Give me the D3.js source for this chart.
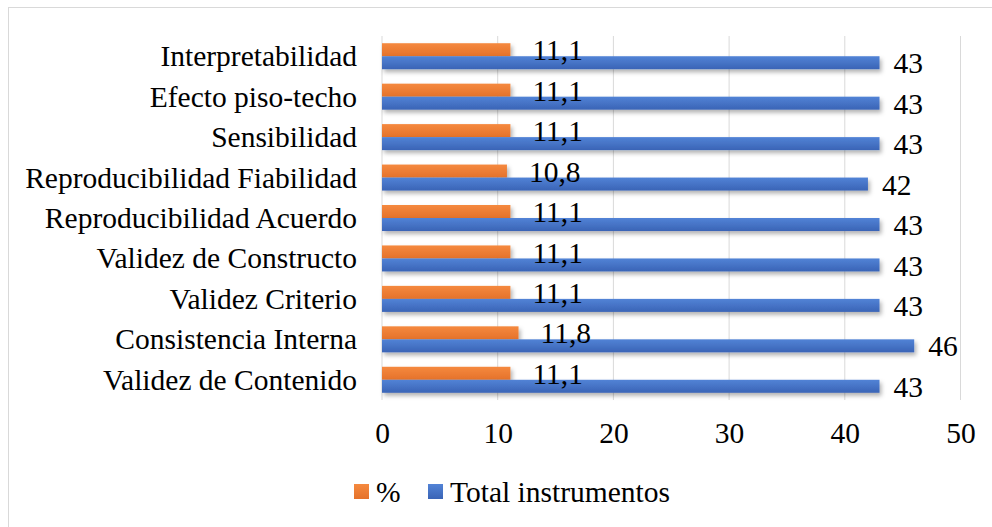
<!DOCTYPE html>
<html>
<head>
<meta charset="utf-8">
<script src="https://cdn.jsdelivr.net/npm/d3@7/dist/d3.min.js"></script>
<style>
  body { margin: 0; background: #fff; }
  svg text { font-family: "Liberation Serif", "Times New Roman", serif; fill: #000; }
</style>
</head>
<body>
<div id="chart"></div>
<script>
// categories, top to bottom as drawn
const categories = [
  "Interpretabilidad",
  "Efecto piso-techo",
  "Sensibilidad",
  "Reproducibilidad Fiabilidad",
  "Reproducibilidad Acuerdo",
  "Validez de Constructo",
  "Validez Criterio",
  "Consistencia Interna",
  "Validez de Contenido"
];
const pctValues = [11.1, 11.1, 11.1, 10.8, 11.1, 11.1, 11.1, 11.8, 11.1];
const totalValues = [43, 43, 43, 42, 43, 43, 43, 46, 43];
const seriesNames = ["%", "Total instrumentos"];
const xTicks = [0, 10, 20, 30, 40, 50];

const width = 992;
const height = 527;
const plot = { left: 382, right: 960.5, top: 36, bottom: 400 };
const fontSize = 29.5;

const esFormat = d3.formatLocale({ decimal: ",", thousands: ".", grouping: [3], currency: ["", "€"] });
const fmtPct = esFormat.format(".1f");
const fmtTotal = esFormat.format("d");

const svg = d3.select("#chart").append("svg")
  .attr("width", width)
  .attr("height", height);

const defs = svg.append("defs");

const shadow = defs.append("filter")
  .attr("id", "shadow")
  .attr("x", "-5%").attr("y", "-30%")
  .attr("width", "115%").attr("height", "190%");
shadow.append("feDropShadow")
  .attr("dx", 2).attr("dy", 3)
  .attr("stdDeviation", 2)
  .attr("flood-color", "#000")
  .attr("flood-opacity", 0.3);

function addGradient(id, top, bottom) {
  const g = defs.append("linearGradient")
    .attr("id", id)
    .attr("x1", 0).attr("y1", 0).attr("x2", 0).attr("y2", 1);
  g.append("stop").attr("offset", "0%").attr("stop-color", top);
  g.append("stop").attr("offset", "100%").attr("stop-color", bottom);
}
addGradient("gradOrange", "#f5893f", "#e5722a");
addGradient("gradBlue", "#5283d6", "#3a64b6");

const colors = ["url(#gradOrange)", "url(#gradBlue)"];
const legendColors = ["url(#gradOrange)", "url(#gradBlue)"];

// outer frame
svg.append("rect")
  .attr("x", 8.5).attr("y", 7.5)
  .attr("width", 1000).attr("height", 1000)
  .attr("fill", "none")
  .attr("stroke", "#d9d9d9");

const x = d3.scaleLinear()
  .domain([0, 50])
  .range([plot.left, plot.right]);

const y = d3.scaleBand()
  .domain(categories)
  .range([plot.top, plot.bottom])
  .padding(0);

const sub = d3.scaleBand()
  .domain(seriesNames)
  .range([0, y.bandwidth()])
  .paddingInner(0)
  .paddingOuter(0.555);

// gridlines
svg.append("g")
  .selectAll("line")
  .data(xTicks)
  .enter().append("line")
  .attr("x1", d => x(d)).attr("x2", d => x(d))
  .attr("y1", plot.top).attr("y2", plot.bottom)
  .attr("stroke", "#d9d9d9")
  .attr("stroke-width", 1);

// x axis
const xAxis = svg.append("g")
  .attr("transform", `translate(0,${plot.bottom})`)
  .call(d3.axisBottom(x).tickValues(xTicks).tickSize(0).tickPadding(22).tickFormat(d3.format("d")));
xAxis.select(".domain").remove();
xAxis.selectAll("text")
  .attr("font-size", fontSize)
  .attr("fill", "#000");

// category labels
svg.append("g")
  .selectAll("text")
  .data(categories)
  .enter().append("text")
  .attr("x", 357)
  .attr("y", d => y(d) + y.bandwidth() / 2)
  .attr("dy", "0.34em")
  .attr("text-anchor", "end")
  .attr("font-size", fontSize)
  .text(d => d);

const rows = categories.map((c, i) => ({
  category: c,
  values: [
    { series: seriesNames[0], value: pctValues[i], label: fmtPct(pctValues[i]), idx: 0 },
    { series: seriesNames[1], value: totalValues[i], label: fmtTotal(totalValues[i]), idx: 1 }
  ]
}));

const group = svg.append("g")
  .selectAll("g")
  .data(rows)
  .enter().append("g")
  .attr("transform", d => `translate(0,${y(d.category)})`);

group.selectAll("rect")
  .data(d => d.values)
  .enter().append("rect")
  .attr("x", x(0))
  .attr("y", d => sub(d.series))
  .attr("width", d => x(d.value) - x(0))
  .attr("height", sub.bandwidth())
  .attr("fill", d => colors[d.idx])
  .attr("filter", "url(#shadow)");

group.selectAll("text")
  .data(d => d.values)
  .enter().append("text")
  .attr("x", d => x(d.value) + (d.idx === 0 ? 22 : 14))
  .attr("y", d => sub(d.series) + sub.bandwidth() / 2)
  .attr("dy", "0.36em")
  .attr("font-size", fontSize)
  .text(d => d.label);

// legend
const legend = svg.append("g");
const legendItems = [
  { name: seriesNames[0], color: legendColors[0], x: 354 },
  { name: seriesNames[1], color: legendColors[1], x: 428 }
];
legend.selectAll("rect")
  .data(legendItems)
  .enter().append("rect")
  .attr("x", d => d.x)
  .attr("y", 484)
  .attr("width", 15)
  .attr("height", 15)
  .attr("fill", d => d.color);
legend.selectAll("text")
  .data(legendItems)
  .enter().append("text")
  .attr("x", d => d.x + 22)
  .attr("y", 502)
  .attr("font-size", fontSize)
  .text(d => d.name);
</script>
</body>
</html>
